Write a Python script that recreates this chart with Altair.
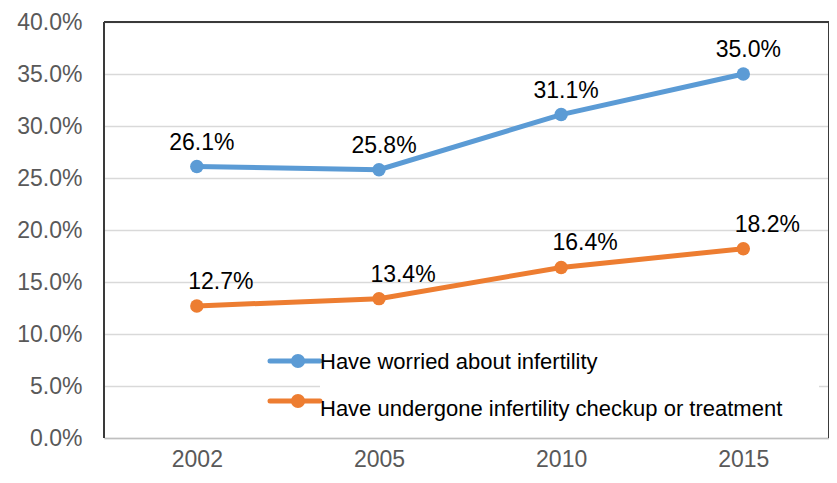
import altair as alt
import pandas as pd

# ---- data ----
years = ["2002", "2005", "2010", "2015"]
series_names = [
    "Have worried about infertility",
    "Have undergone infertility checkup or treatment",
]
worried = [0.261, 0.258, 0.311, 0.350]
undergone = [0.127, 0.134, 0.164, 0.182]
y_ticks = [0.0, 0.05, 0.10, 0.15, 0.20, 0.25, 0.30, 0.35, 0.40]
colors = ["#5B9BD5", "#ED7D31"]

rows = []
for s, vals in zip(series_names, [worried, undergone]):
    for yr, v in zip(years, vals):
        rows.append({"year": yr, "series": s, "value": v})
df = pd.DataFrame(rows)

W, H = 725, 416
FONT = "Liberation Sans"

x_enc = alt.X(
    "year:N",
    sort=years,
    scale=alt.Scale(type="point", padding=0.49, align=0.52, domain=years),
    axis=alt.Axis(
        title=None, labelAngle=0, labelFontSize=23, labelColor="#595959",
        labelFont=FONT, labelPadding=10, ticks=False, domain=True,
        domainColor="#bfbfbf", domainWidth=1.5, grid=False,
    ),
)
y_enc = alt.Y(
    "value:Q",
    scale=alt.Scale(domain=[0, 0.4], nice=False),
    axis=alt.Axis(
        title=None, values=y_ticks, format=".1%", labelFontSize=23,
        labelColor="#595959", labelFont=FONT, labelPadding=22, ticks=False,
        domain=False, grid=True, gridColor="#d9d9d9", gridWidth=1.5,
    ),
)
c_enc = alt.Color(
    "series:N", scale=alt.Scale(domain=series_names, range=colors), legend=None
)

base = alt.Chart(df).encode(x=x_enc, y=y_enc, color=c_enc)

lines = base.mark_line(strokeWidth=5)
points = base.mark_point(filled=True, size=180, opacity=1)

label_dx = {series_names[0]: 5, series_names[1]: 24}
labels = [
    base.transform_filter(alt.datum.series == s)
    .mark_text(fontSize=23, font=FONT, color="black", dy=-24, dx=label_dx[s])
    .encode(text=alt.Text("value:Q", format=".1%"), color=alt.value("black"))
    for s in series_names
]

one = pd.DataFrame({"k": [0]})

# white box behind the legend text (hides the 5% gridline like in the reference)
legend_box = alt.Chart(one).mark_rect(color="white").encode(
    x=alt.value(216), x2=alt.value(715), y=alt.value(325), y2=alt.value(408)
)

legend_layers = []
sym_y = [339, 379]
txt_y = [340, 387]
for i, s in enumerate(series_names):
    ldf = pd.DataFrame({"series": [s]})
    legend_layers.append(
        alt.Chart(ldf).mark_rule(strokeWidth=5, color=colors[i], strokeCap="round").encode(
            x=alt.value(166), x2=alt.value(216), y=alt.value(sym_y[i])
        )
    )
    legend_layers.append(
        alt.Chart(ldf).mark_point(filled=True, size=200, opacity=1, color=colors[i]).encode(
            x=alt.value(194), y=alt.value(sym_y[i])
        )
    )
    legend_layers.append(
        alt.Chart(ldf).mark_text(
            align="left", baseline="middle", fontSize=22, font=FONT, color="black"
        ).encode(x=alt.value(216), y=alt.value(txt_y[i]), text="series:N")
    )

frame_color = "#3a3a3a"
frame = [
    alt.Chart(one).mark_rule(color=frame_color, strokeWidth=2).encode(
        x=alt.value(0), y=alt.value(0), y2=alt.value(H)
    ),
    alt.Chart(one).mark_rule(color=frame_color, strokeWidth=2).encode(
        x=alt.value(0), x2=alt.value(W), y=alt.value(0)
    ),
    alt.Chart(one).mark_rule(color=frame_color, strokeWidth=2).encode(
        x=alt.value(W), y=alt.value(0), y2=alt.value(H)
    ),
]

chart = alt.layer(
    legend_box, lines, points, *labels, *legend_layers, *frame
).properties(
    width=W,
    height=H,
    padding={"left": 96, "top": 14, "right": 0, "bottom": 37},
    autosize="none",
).configure_view(stroke=None)

chart.save("out.html", embed_options={"renderer": "svg", "actions": False})
